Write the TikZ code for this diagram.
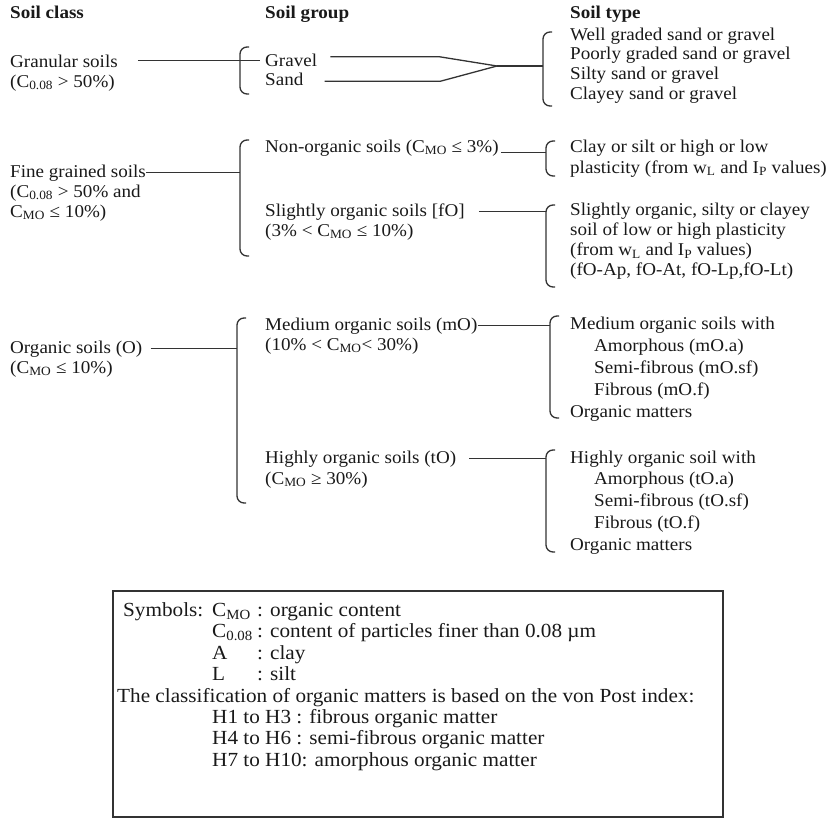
\documentclass[tikz,border=0pt]{standalone}
\usepackage{fontspec}
\setmainfont{Liberation Serif}[FakeStretch=1.06]
\usetikzlibrary{positioning}

\begin{document}
\begin{tikzpicture}[x=1pt, y=-1pt,
	txt/.style={font=\fontsize{18}{21}\selectfont, anchor=base west, inner sep=0pt, text=black!90},
	hdr/.style={txt, font=\fontsize{18}{21}\selectfont\bfseries},
	list/.style={txt, align=left, font=\fontsize{18}{#1}\selectfont},
	list/.default=21,
	boxtxt/.style={txt, font=\fontsize{20}{21.5}\selectfont},
	boxlist/.style={list, font=\fontsize{20}{21.5}\selectfont},
	link/.style={line width=1.3pt, draw=black!80},
	brace/.style={link, rounded corners=7pt}]

	\useasboundingbox (0,0) rectangle (827,819);

	% headings
	\node[hdr] (hclass) at (10,19) {Soil class};
	\node[hdr] (hgroup) at (265,19) {Soil group};
	\node[hdr] (htype) at (570,19) {Soil type};

	% granular soils (multi-line nodes sit on their last baseline)
	\node[txt] (gran) at (10,67) {Granular soils};
	\node[txt] (granc) at (10,87) {(C\textsubscript{0.08} > 50\%)};
	\node[txt] (grav) at (265,66) {Gravel};
	\node[txt] (sand) at (265,85) {Sand};
	\node[list=19.7] (grant) at (570,99.1) {Well graded sand or gravel\\Poorly graded sand or gravel\\Silty sand or gravel\\Clayey sand or gravel};

	% fine grained soils
	\node[txt] (fine) at (10,177) {Fine grained soils};
	\node[list=20] (finec) at (10,217) {(C\textsubscript{0.08} > 50\% and\\C\textsubscript{MO} ≤ 10\%)};
	\node[txt] (nonorg) at (265,152) {Non-organic soils (C\textsubscript{MO} ≤ 3\%)};
	\node[txt] (slight) at (265,216) {Slightly organic soils [fO]};
	\node[txt] (slightc) at (265,236) {(3\% < C\textsubscript{MO} ≤ 10\%)};
	\node[list] (nonorgt) at (570,173) {Clay or silt or high or low\\plasticity (from w\textsubscript{L} and I\textsubscript{P} values)};
	\node[list=20.3] (slightt) at (570,275.9) {Slightly organic, silty or clayey\\soil of low or high plasticity\\(from w\textsubscript{L} and I\textsubscript{P} values)\\(fO-Ap, fO-At, fO-Lp,fO-Lt)};

	% organic soils
	\node[txt] (org) at (10,353) {Organic soils (O)};
	\node[txt] (orgc) at (10,373) {(C\textsubscript{MO} ≤ 10\%)};
	\node[txt] (med) at (265,330) {Medium organic soils (mO)};
	\node[txt] (medc) at (265,350) {(10\% < C\textsubscript{MO}< 30\%)};
	\node[txt] (high) at (265,463) {Highly organic soils (tO)};
	\node[txt] (highc) at (265,484) {(C\textsubscript{MO} ≥ 30\%)};
	\node[list=22] (medt) at (570,417) {Medium organic soils with\\\hspace*{24pt}Amorphous (mO.a)\\\hspace*{24pt}Semi-fibrous (mO.sf)\\\hspace*{24pt}Fibrous (mO.f)\\Organic matters};
	\node[list=21.8] (hight) at (570,550.2) {Highly organic soil with\\\hspace*{24pt}Amorphous (tO.a)\\\hspace*{24pt}Semi-fibrous (tO.sf)\\\hspace*{24pt}Fibrous (tO.f)\\Organic matters};

	% brackets
	\coordinate (b1t) at (240,47);
	\coordinate (b1b) at (240,94);
	\coordinate (b2t) at (543,32);
	\coordinate (b2b) at (543,106);
	\coordinate (b3t) at (240,140);
	\coordinate (b3b) at (240,256);
	\coordinate (b4t) at (546,141);
	\coordinate (b4b) at (546,176);
	\coordinate (b5t) at (546,205);
	\coordinate (b5b) at (546,287);
	\coordinate (b6t) at (237,318);
	\coordinate (b6b) at (237,503);
	\coordinate (b7t) at (550,316);
	\coordinate (b7b) at (550,418);
	\coordinate (b8t) at (546,450);
	\coordinate (b8b) at (546,552);

	\foreach \b in {b1,b2,b3,b4,b5,b6,b7,b8}
		\draw[brace] ([xshift=9pt]\b t) -- (\b t) -- (\b b) -- ([xshift=9pt]\b b);

	% connectors
	\coordinate (kink) at (440,0);
	\coordinate (join) at (497,66);

	\draw[link] ([xshift=20pt]gran.east) -- ([xshift=20pt]gran.east -| b1t);
	\draw[link] ([xshift=13pt,yshift=3pt]grav.east) coordinate (g0) -- (g0 -| kink) -- (join);
	\draw[link] ([xshift=21pt,yshift=-2.5pt]sand.east) coordinate (s0) -- (s0 -| kink) -- (join);
	\draw[link] (join) -- (join -| b2t);

	\draw[link] (fine.east) -- (fine.east -| b3t);
	\draw[link] ([xshift=2pt,yshift=-5pt]nonorg.east) -- ([yshift=-5pt]nonorg.east -| b4t);
	\draw[link] ([xshift=14pt]slight.east) -- (slight.east -| b5t);

	\draw[link] ([xshift=8pt]org.east) -- (org.east -| b6t);
	\draw[link] (med.east) -- (med.east -| b7t);
	\draw[link] ([xshift=13pt]high.east) -- (high.east -| b8t);

	% legend box
	\draw[link] (113,591) rectangle (723,817);
	\node[boxtxt] (symb) at (123,616) {Symbols:};
	\node[boxlist] (symlist) at (212,680.5) {C\textsubscript{MO}\\C\textsubscript{0.08}\\A\\L};
	\node[boxlist] (symdesc) at (257,680.5) {: organic content\\: content of particles finer than 0.08 µm\\: clay\\: silt};
	\node[boxtxt] (vonpost) at (117,702) {The classification of organic matters is based on the von Post index:};
	\node[boxlist] (hlist) at (212,766.4) {H1 to H3 : fibrous organic matter\\H4 to H6 : semi-fibrous organic matter\\H7 to H10: amorphous organic matter};

\end{tikzpicture}
\end{document}
